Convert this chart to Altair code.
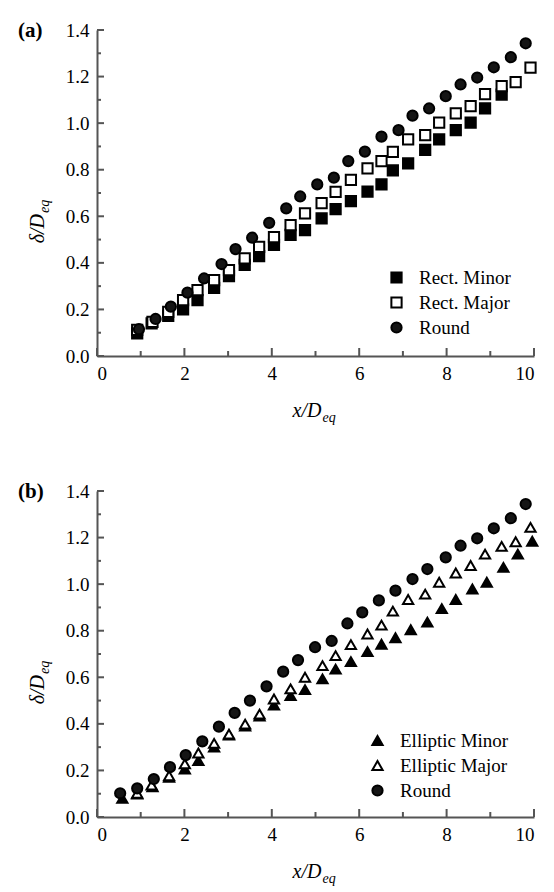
import altair as alt
import pandas as pd

# ---------------- data ----------------
rect_minor_x = [0.92, 1.25, 1.63, 1.97, 2.30, 2.68, 3.02, 3.38, 3.71, 4.05, 4.43, 4.76, 5.14, 5.46, 5.81,
                6.19, 6.51, 6.77, 7.12, 7.51, 7.83, 8.21, 8.55, 8.88, 9.26]
rect_minor_y = [0.097, 0.140, 0.172, 0.200, 0.240, 0.293, 0.343, 0.391, 0.429, 0.477, 0.520, 0.541, 0.591,
                0.631, 0.665, 0.706, 0.737, 0.797, 0.827, 0.885, 0.930, 0.970, 1.002, 1.063, 1.122]
rect_major_x = [0.92, 1.27, 1.63, 1.97, 2.30, 2.68, 3.02, 3.38, 3.71, 4.05, 4.43, 4.76, 5.14, 5.46, 5.81,
                6.19, 6.51, 6.77, 7.12, 7.51, 7.83, 8.21, 8.55, 8.88, 9.26, 9.58, 9.92]
rect_major_y = [0.112, 0.147, 0.190, 0.240, 0.283, 0.326, 0.369, 0.419, 0.469, 0.510, 0.562, 0.613, 0.656,
                0.705, 0.756, 0.806, 0.837, 0.877, 0.930, 0.949, 1.002, 1.042, 1.073, 1.125, 1.159, 1.176, 1.238]
round_a_x = [0.96, 1.34, 1.69, 2.07, 2.45, 2.85, 3.17, 3.55, 3.94, 4.33, 4.65, 5.04, 5.42, 5.75, 6.13,
             6.51, 6.90, 7.22, 7.60, 7.98, 8.32, 8.70, 9.08, 9.47, 9.81]
round_a_y = [0.115, 0.159, 0.212, 0.272, 0.333, 0.395, 0.459, 0.508, 0.572, 0.634, 0.685, 0.737, 0.766,
             0.837, 0.878, 0.942, 0.970, 1.032, 1.063, 1.116, 1.166, 1.196, 1.240, 1.283, 1.343]

ell_minor_x = [0.58, 0.92, 1.27, 1.65, 2.01, 2.32, 2.68, 3.02, 3.39, 3.72, 4.05, 4.43, 4.76, 5.16, 5.46,
               5.81, 6.19, 6.51, 6.83, 7.18, 7.56, 7.89, 8.21, 8.59, 8.92, 9.30, 9.63, 9.96]
ell_minor_y = [0.080, 0.098, 0.130, 0.170, 0.206, 0.242, 0.300, 0.352, 0.391, 0.433, 0.481, 0.521, 0.547,
               0.593, 0.635, 0.667, 0.710, 0.742, 0.770, 0.804, 0.837, 0.895, 0.934, 0.979, 1.008, 1.072,
               1.129, 1.184]
ell_major_x = [0.92, 1.25, 1.65, 2.01, 2.32, 2.68, 3.02, 3.39, 3.72, 4.05, 4.43, 4.76, 5.16, 5.46, 5.81,
               6.19, 6.51, 6.77, 7.12, 7.51, 7.83, 8.21, 8.55, 8.88, 9.26, 9.58, 9.92]
ell_major_y = [0.102, 0.137, 0.177, 0.228, 0.275, 0.316, 0.356, 0.399, 0.442, 0.507, 0.550, 0.600, 0.650,
               0.693, 0.740, 0.786, 0.824, 0.884, 0.934, 0.957, 1.008, 1.048, 1.080, 1.129, 1.162, 1.182,
               1.244]
round_b_x = [0.53, 0.92, 1.30, 1.67, 2.03, 2.41, 2.79, 3.15, 3.50, 3.88, 4.26, 4.60, 4.99, 5.37, 5.73,
             6.07, 6.45, 6.83, 7.22, 7.56, 7.98, 8.32, 8.70, 9.08, 9.47, 9.81]
round_b_y = [0.102, 0.123, 0.163, 0.214, 0.266, 0.325, 0.388, 0.447, 0.500, 0.561, 0.624, 0.674, 0.729,
             0.756, 0.831, 0.879, 0.930, 0.972, 1.022, 1.065, 1.115, 1.165, 1.197, 1.240, 1.283, 1.344]

names_a = ["Rect. Minor", "Rect. Major", "Round"]
names_b = ["Elliptic Minor", "Elliptic Major", "Round"]
x_ticks = [0, 2, 4, 6, 8, 10]
x_minor = [1, 3, 5, 7, 9]
y_ticks = [0.0, 0.2, 0.4, 0.6, 0.8, 1.0, 1.2, 1.4]
y_minor = [0.1, 0.3, 0.5, 0.7, 0.9, 1.1, 1.3]

# ---------------- style ----------------
W, H = 437, 326
FONT = "Liberation Serif"
AXIS_COLOR = "#555555"


def long_df(names, series):
    rows = []
    for order, (name, (xs, ys)) in enumerate(zip(names, series)):
        for x, y in zip(xs, ys):
            rows.append({"series": name, "x": x, "y": y, "order": order})
    return pd.DataFrame(rows)


def legend(lx, ly):
    return alt.Legend(title=None, orient="none", legendX=lx, legendY=ly,
                      labelFont=FONT, labelFontSize=19, labelColor="black",
                      symbolSize=105, symbolStrokeWidth=2, labelOffset=13,
                      rowPadding=5, padding=0)


def panel(names, series, shapes, fills, legend_x, legend_y, tag):
    df = long_df(names, series)
    xs = alt.Scale(domain=[0, 10], nice=False, zero=False)
    ys = alt.Scale(domain=[0, 1.4], nice=False, zero=False)

    pts = alt.Chart(df).mark_point(size=105, strokeWidth=2, opacity=1).encode(
        x=alt.X("x:Q", scale=xs,
                axis=alt.Axis(values=x_ticks, format="d", title=None, ticks=False, grid=False,
                              labelFont=FONT, labelFontSize=19, labelColor="black", labelPadding=8,
                              domainColor=AXIS_COLOR, domainWidth=2)),
        y=alt.Y("y:Q", scale=ys,
                axis=alt.Axis(values=y_ticks, format=".1f", title=None, ticks=False, grid=False,
                              labelFont=FONT, labelFontSize=19, labelColor="black", labelPadding=8,
                              domainColor=AXIS_COLOR, domainWidth=2)),
        shape=alt.Shape("series:N", scale=alt.Scale(domain=names, range=shapes),
                        legend=legend(legend_x, legend_y)),
        fill=alt.Fill("series:N", scale=alt.Scale(domain=names, range=fills),
                      legend=legend(legend_x, legend_y)),
        stroke=alt.Stroke("series:N", scale=alt.Scale(domain=names, range=["black", "black", "black"]),
                          legend=legend(legend_x, legend_y)),
        order=alt.Order("order:Q"),
    )

    ymaj = alt.Chart(pd.DataFrame({"v": y_ticks})).mark_rule(color=AXIS_COLOR, strokeWidth=2).encode(
        y=alt.Y("v:Q", scale=ys), x=alt.value(0), x2=alt.value(7))
    ymin = alt.Chart(pd.DataFrame({"v": y_minor})).mark_rule(color=AXIS_COLOR, strokeWidth=2).encode(
        y=alt.Y("v:Q", scale=ys), x=alt.value(0), x2=alt.value(4))
    xmaj = alt.Chart(pd.DataFrame({"v": x_ticks})).mark_rule(color=AXIS_COLOR, strokeWidth=2).encode(
        x=alt.X("v:Q", scale=xs), y=alt.value(H), y2=alt.value(H - 8))
    xmin = alt.Chart(pd.DataFrame({"v": x_minor})).mark_rule(color=AXIS_COLOR, strokeWidth=2).encode(
        x=alt.X("v:Q", scale=xs), y=alt.value(H), y2=alt.value(H - 5))

    one = pd.DataFrame({"a": [0]})
    tag_t = alt.Chart(one).mark_text(text=tag, font=FONT, fontSize=21, fontWeight="bold",
                                     align="left", baseline="alphabetic", color="black").encode(
        x=alt.value(-79), y=alt.value(7))
    xt1 = alt.Chart(one).mark_text(text="x/D", font=FONT, fontSize=20, fontStyle="italic",
                                   align="right", baseline="alphabetic", color="black").encode(
        x=alt.value(W / 2 + 6), y=alt.value(H + 61))
    xt2 = alt.Chart(one).mark_text(text="eq", font=FONT, fontSize=14, fontStyle="italic",
                                   align="left", baseline="alphabetic", color="black").encode(
        x=alt.value(W / 2 + 7), y=alt.value(H + 66))
    yt1 = alt.Chart(one).mark_text(text="δ/D", font=FONT, fontSize=20, fontStyle="italic",
                                   align="right", baseline="alphabetic", angle=270, color="black").encode(
        x=alt.value(-53), y=alt.value(184))
    yt2 = alt.Chart(one).mark_text(text="eq", font=FONT, fontSize=14, fontStyle="italic",
                                   align="left", baseline="alphabetic", angle=270, dy=5,
                                   color="black").encode(
        x=alt.value(-53), y=alt.value(183))

    return alt.layer(ymaj, ymin, xmaj, xmin, pts, tag_t, xt1, xt2, yt1, yt2).properties(
        width=W, height=H)


top = panel(names_a, [(rect_minor_x, rect_minor_y), (rect_major_x, rect_major_y), (round_a_x, round_a_y)],
            ["square", "square", "circle"], ["black", "white", "#151515"], 290, 238, "(a)")
bottom = panel(names_b, [(ell_minor_x, ell_minor_y), (ell_major_x, ell_major_y), (round_b_x, round_b_y)],
               ["triangle-up", "triangle-up", "circle"], ["black", "white", "#151515"], 271, 240, "(b)")

chart = alt.vconcat(top, bottom, spacing=56).resolve_scale(
    shape="independent", fill="independent", stroke="independent", x="independent", y="independent"
).resolve_legend(shape="independent", fill="independent", stroke="independent").properties(
    padding={"left": 10, "top": 12, "right": 0, "bottom": 0}
).configure_view(stroke=None).configure_axis(
    domainColor=AXIS_COLOR, domainWidth=2, labelFont=FONT, labelFontSize=19, labelColor="black",
    labelPadding=8
)

chart.save("out.html", embed_options={"renderer": "svg", "actions": False})
